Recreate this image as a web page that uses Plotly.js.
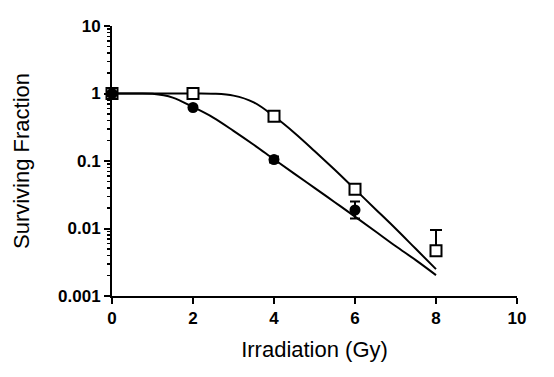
<!DOCTYPE html>
<html>
<head>
<meta charset="utf-8">
<script src="https://cdn.plot.ly/plotly-3.0.1.min.js"></script>
<style>html,body{margin:0;padding:0;background:#fff;}#chart{width:554px;height:377px;}</style>
</head>
<body>
<div id="chart"></div>
<script>
// Measured points
const filledDose = [0, 2, 4, 6];
const filledSF = [1, 0.62, 0.105, 0.0188];
const filledErrPlus = [0, 0, 0.012, 0.0063];
const filledErrMinus = [0, 0, 0.01, 0.0047];

const openDose = [0, 2, 4, 6, 8];
const openSF = [1, 1, 0.46, 0.038, 0.0047];
const openErrPlus = [0, 0, 0, 0, 0.0048];
const openErrMinus = [0, 0, 0, 0, 0];

// Fitted curves
const curveDose = [0, 0.5, 1, 1.5, 2, 2.5, 3, 3.5, 4, 4.5, 5, 5.5, 6, 6.5, 7, 7.5, 8];
const filledFit = [1, 1, 0.99, 0.87, 0.63, 0.44, 0.28, 0.174, 0.106, 0.065, 0.040, 0.0245, 0.015, 0.0091, 0.0055, 0.0034, 0.00204];
const openFit = [1, 1, 1, 1, 1, 0.993, 0.93, 0.74, 0.46, 0.263, 0.141, 0.074, 0.038, 0.0195, 0.010, 0.0050, 0.0025];

// Tick labels
const xTickVals = [0, 2, 4, 6, 8, 10];
const yTickVals = [0.001, 0.01, 0.1, 1, 10];
const yTickText = ['0.001', '0.01', '0.1', '1', '10'];
const yMinorVals = [
  0.002, 0.003, 0.004, 0.005, 0.006, 0.007, 0.008, 0.009,
  0.02, 0.03, 0.04, 0.05, 0.06, 0.07, 0.08, 0.09,
  0.2, 0.3, 0.4, 0.5, 0.6, 0.7, 0.8, 0.9,
  2, 3, 4, 5, 6, 7, 8, 9
];

const traces = [
  {x: curveDose, y: openFit, mode: 'lines', line: {color: 'black', width: 2, shape: 'spline'}, hoverinfo: 'skip', cliponaxis: false},
  {x: curveDose, y: filledFit, mode: 'lines', line: {color: 'black', width: 2, shape: 'spline'}, hoverinfo: 'skip', cliponaxis: false},
  {x: openDose, y: openSF, mode: 'markers', cliponaxis: false,
   marker: {symbol: 'square', size: 11, color: 'white', line: {color: 'black', width: 2}},
   error_y: {type: 'data', array: openErrPlus, arrayminus: openErrMinus, color: 'black', thickness: 2, width: 6}},
  {x: filledDose, y: filledSF, mode: 'markers', cliponaxis: false,
   marker: {symbol: 'circle', size: 11, color: 'black'},
   error_y: {type: 'data', array: filledErrPlus, arrayminus: filledErrMinus, color: 'black', thickness: 2, width: 5}}
];

const layout = {
  width: 554, height: 377,
  margin: {l: 112, r: 37, t: 26, b: 81},
  paper_bgcolor: 'white', plot_bgcolor: 'white',
  showlegend: false,
  font: {family: 'Arial, "Liberation Sans", sans-serif', color: 'black'},
  xaxis: {
    range: [0, 10], tickvals: xTickVals, ticks: 'outside', ticklen: 6, tickwidth: 2, tickcolor: 'black',
    showline: true, linewidth: 2, linecolor: 'black', showgrid: false, zeroline: false,
    tickfont: {size: 17, weight: 'bold', color: 'black'},
    title: {text: 'Irradiation (Gy)', font: {size: 22, color: 'black'}, standoff: 14}
  },
  yaxis: {
    type: 'log', range: [-3, 1], tickvals: yTickVals, ticktext: yTickText,
    ticks: 'outside', ticklen: 6, tickwidth: 2, tickcolor: 'black',
    minor: {tickvals: yMinorVals, ticks: 'outside', ticklen: 3, tickwidth: 1.5, tickcolor: 'black', showgrid: false},
    showline: true, linewidth: 2, linecolor: 'black', showgrid: false, zeroline: false,
    tickfont: {size: 17, weight: 'bold', color: 'black'},
    title: {text: 'Surviving Fraction', font: {size: 22, color: 'black'}, standoff: 22}
  }
};

Plotly.newPlot('chart', traces, layout, {displayModeBar: false, staticPlot: true});
</script>
</body>
</html>
